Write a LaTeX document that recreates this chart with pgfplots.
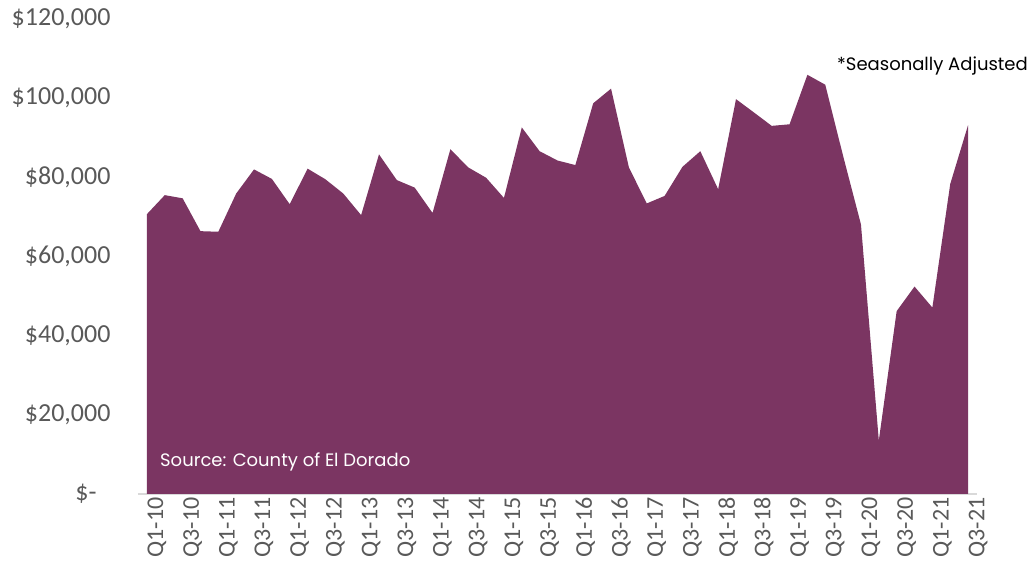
\documentclass[border=0pt]{standalone}
\usepackage{pgfplots}
\pgfplotsset{compat=1.18}
\usepackage{fontspec}
\setmainfont{Carlito}
\newfontfamily\gothic{Poppins}
\definecolor{plum}{RGB}{123,53,98}
\definecolor{ticktext}{RGB}{89,89,89}
\definecolor{baseline}{RGB}{217,217,217}

\pgfplotstableread{
idx value
0 70700
1 75500
2 74700
3 66400
4 66250
5 75900
6 82000
7 79600
8 73200
9 82200
10 79500
11 75900
12 70450
13 85800
14 79300
15 77400
16 71000
17 87100
18 82500
19 79900
20 74800
21 92600
22 86600
23 84250
24 83100
25 98700
26 102400
27 82500
28 73400
29 75300
30 82650
31 86600
32 77000
33 99750
34 96400
35 93000
36 93400
37 105900
38 103400
39 85400
40 68100
41 13500
42 46200
43 52400
44 47100
45 78300
46 93200
}\sales

\begin{document}
\begin{tikzpicture}
\begin{axis}[
    scale only axis,
    width=839pt, height=475pt,
    xmin=-0.5, xmax=46.5,
    ymin=0, ymax=120000,
    scaled y ticks=false,
    axis x line*=bottom, axis y line*=left,
    x axis line style={draw=baseline, line width=1.2pt},
    y axis line style={draw=none},
    major tick length=0pt,
    xtick={0,2,...,46},
    xticklabels={Q1-10,Q3-10,Q1-11,Q3-11,Q1-12,Q3-12,Q1-13,Q3-13,Q1-14,Q3-14,Q1-15,Q3-15,
                 Q1-16,Q3-16,Q1-17,Q3-17,Q1-18,Q3-18,Q1-19,Q3-19,Q1-20,Q3-20,Q1-21,Q3-21},
    xticklabel style={rotate=90, anchor=east, font=\fontsize{24}{28}\selectfont, text=ticktext, yshift=-10pt},
    ytick={0,20000,40000,60000,80000,100000,120000},
    yticklabels={{\$-\kern14pt},{\$20,000},{\$40,000},{\$60,000},{\$80,000},{\$100,000},{\$120,000}},
    yticklabel style={anchor=east, font=\fontsize{26}{30}\selectfont, text=ticktext, xshift=-24pt},
    clip=false,
]
\addplot[draw=none, fill=plum] table[x=idx, y=value] {\sales} \closedcycle;
\node[anchor=east, inner sep=0pt, font=\gothic\fontsize{18}{22}\selectfont]
    at (axis description cs:1.0608,0.901) {*Seasonally Adjusted};
\node[anchor=west, inner sep=0pt, text=white, font=\gothic\fontsize{18}{22}\selectfont]
    at (axis description cs:0.0262,0.0674) {Source: County of El Dorado};
\end{axis}
\pgfresetboundingbox
\path (-138pt,-78pt) rectangle (890pt,494pt);
\end{tikzpicture}
\end{document}
